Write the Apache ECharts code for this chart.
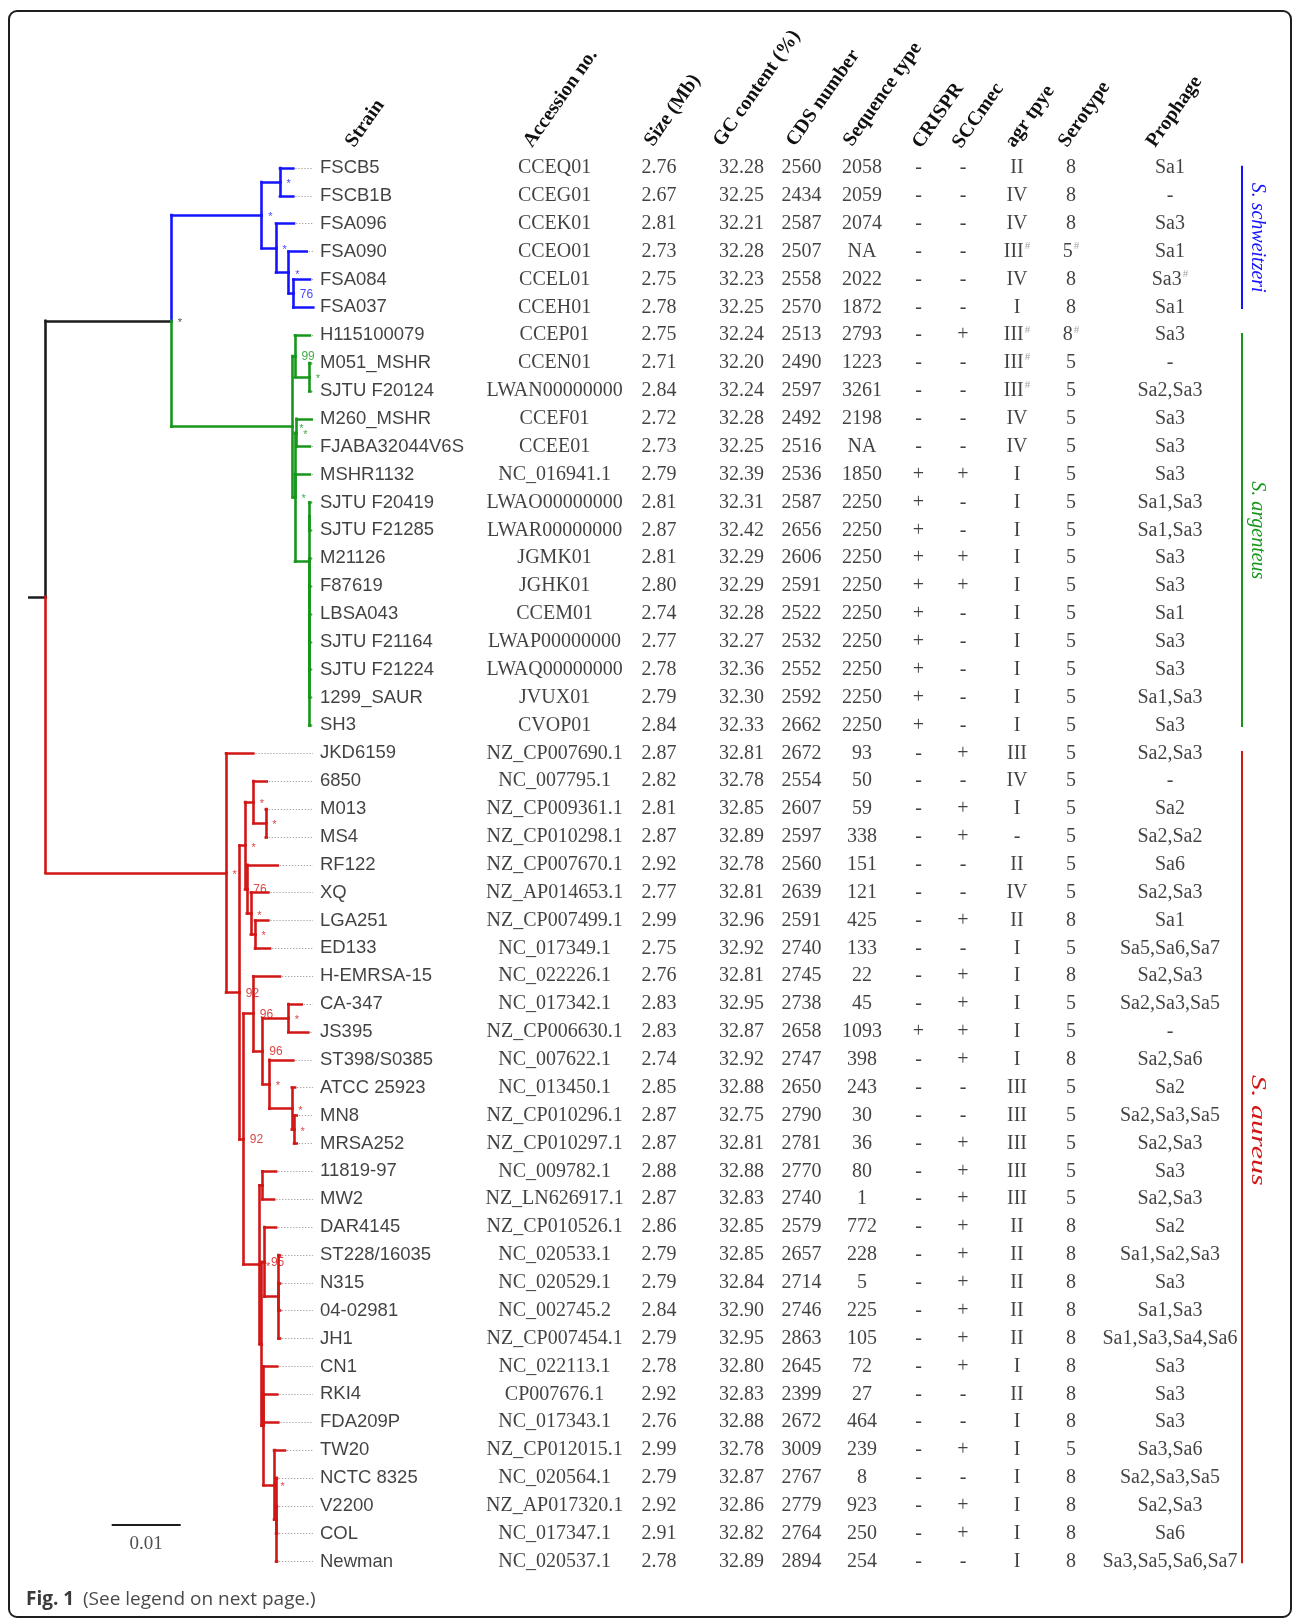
<!DOCTYPE html>
<html>
<head>
<meta charset="utf-8">
<title>Staphylococcus aureus complex genomes</title>
<script src="https://cdn.jsdelivr.net/npm/echarts@6/dist/echarts.min.js"></script>
<style>
  html, body { margin: 0; padding: 0; background: #fff; }
  #chart { width: 1295px; height: 1619px; }
</style>
</head>
<body>
<div id="chart"></div>
<script>
// ---------------------------------------------------------------
// Data
// ---------------------------------------------------------------

// Maximum-likelihood core-genome tree (Newick). Branch lengths are in
// substitutions per site; text after ')' is the bootstrap support
// ('*' = 100).
const treeBlue =
  "((FSCB5:0.00193,FSCB1B:0.00193)*:0.00265," +
  "(FSA096:0.00261,(FSA090:0.00261,(FSA084:0.00242,FSA037:0.0029)76:0.00067)*:0.00184)*:0.00207)*:0.0131";
const treeGreen =
  "((H115100079:0.00217,(M051_MSHR:0.00017,'SJTU F20124':0.00017)*:0.00207)99:0.00033," +
  "((M260_MSHR:0.00217,FJABA32044V6S:0.00193)*:0.00025,MSHR1132:0.00217," +
  "(('SJTU F20419':0.00017,'SJTU F21285':0.00017):0,(M21126:0.00017,(F87619:0.00017,LBSA043:0.00017," +
  "'SJTU F21164':0.00017,'SJTU F21224':0.00017,1299_SAUR:0.00017,SH3:0.00017):0):0):0.00207)*:0.00033)*:0.01759";
const treeRed =
  "(JKD6159:0.00396,(" +
    "((6850:0.00194,(M013:0.00014,MS4:0.00014)*:0.0018)*:0.0012," +
    "(RF122:0.00449,(XQ:0.00255,(LGA251:0.00193,ED133:0.00217)*:0.00062)*:0.00058)76:0.00025)*:0.00083," +
    "(('H-EMRSA-15':0.00387,(('CA-347':0.00194,JS395:0.0029)*:0.00371," +
      "('ST398/S0385':0.00348,('ATCC 25923':0.00048,(MN8:0.00039,MRSA252:0.00039)*:0.00033)*:0.00325)*:0.00096)96:0.00136)96:0.00145," +
    "(('11819-97':0.00199,MW2:0.0017):0.00041,((DAR4145:0.0017,('ST228/16035':0.00025,N315:0.00025," +
      "'04-02981':0.00025,JH1:0.00025):0.00203)95:0.00041,(CN1:0.00203,RKI4:0.00203,FDA209P:0.00217," +
      "(TW20:0.00159,('NCTC 8325':0.00014,V2200:0.00014,COL:0.00014,Newman:0.00014):0.00029)*:0.00155):0.00026):0.00029)*:0.00235" +
    ")92:0.00058" +
  ")92:0.00193)*:0.02613";
const treeNewick = "((" + treeBlue + "," + treeGreen + ")*:0.0182," + treeRed + "):0.00238;";

// Species clades (first and last strain of each clade in tree order)
const cladeNames  = ['S. schweitzeri', 'S. argenteus', 'S. aureus'];
const cladeFirst  = ['FSCB5', 'H115100079', 'JKD6159'];
const cladeLast   = ['FSA037', 'SH3', 'Newman'];
const cladeColors = ['#1414ff', '#16961a', '#d11616'];

// Genome features, one entry per strain
const strains = ['FSCB5','FSCB1B','FSA096','FSA090','FSA084','FSA037','H115100079','M051_MSHR','SJTU F20124',
  'M260_MSHR','FJABA32044V6S','MSHR1132','SJTU F20419','SJTU F21285','M21126','F87619','LBSA043','SJTU F21164',
  'SJTU F21224','1299_SAUR','SH3','JKD6159','6850','M013','MS4','RF122','XQ','LGA251','ED133','H-EMRSA-15',
  'CA-347','JS395','ST398/S0385','ATCC 25923','MN8','MRSA252','11819-97','MW2','DAR4145','ST228/16035','N315',
  '04-02981','JH1','CN1','RKI4','FDA209P','TW20','NCTC 8325','V2200','COL','Newman'];
const accession = ['CCEQ01','CCEG01','CCEK01','CCEO01','CCEL01','CCEH01','CCEP01','CCEN01','LWAN00000000',
  'CCEF01','CCEE01','NC_016941.1','LWAO00000000','LWAR00000000','JGMK01','JGHK01','CCEM01','LWAP00000000',
  'LWAQ00000000','JVUX01','CVOP01','NZ_CP007690.1','NC_007795.1','NZ_CP009361.1','NZ_CP010298.1',
  'NZ_CP007670.1','NZ_AP014653.1','NZ_CP007499.1','NC_017349.1','NC_022226.1','NC_017342.1','NZ_CP006630.1',
  'NC_007622.1','NC_013450.1','NZ_CP010296.1','NZ_CP010297.1','NC_009782.1','NZ_LN626917.1','NZ_CP010526.1',
  'NC_020533.1','NC_020529.1','NC_002745.2','NZ_CP007454.1','NC_022113.1','CP007676.1','NC_017343.1',
  'NZ_CP012015.1','NC_020564.1','NZ_AP017320.1','NC_017347.1','NC_020537.1'];
const sizeMb = [2.76,2.67,2.81,2.73,2.75,2.78,2.75,2.71,2.84,2.72,2.73,2.79,2.81,2.87,2.81,2.80,2.74,2.77,2.78,
  2.79,2.84,2.87,2.82,2.81,2.87,2.92,2.77,2.99,2.75,2.76,2.83,2.83,2.74,2.85,2.87,2.87,2.88,2.87,2.86,2.79,2.79,
  2.84,2.79,2.78,2.92,2.76,2.99,2.79,2.92,2.91,2.78];
const gcContent = [32.28,32.25,32.21,32.28,32.23,32.25,32.24,32.20,32.24,32.28,32.25,32.39,32.31,32.42,32.29,
  32.29,32.28,32.27,32.36,32.30,32.33,32.81,32.78,32.85,32.89,32.78,32.81,32.96,32.92,32.81,32.95,32.87,32.92,
  32.88,32.75,32.81,32.88,32.83,32.85,32.85,32.84,32.90,32.95,32.80,32.83,32.88,32.78,32.87,32.86,32.82,32.89];
const cdsNumber = [2560,2434,2587,2507,2558,2570,2513,2490,2597,2492,2516,2536,2587,2656,2606,2591,2522,2532,
  2552,2592,2662,2672,2554,2607,2597,2560,2639,2591,2740,2745,2738,2658,2747,2650,2790,2781,2770,2740,2579,2657,
  2714,2746,2863,2645,2399,2672,3009,2767,2779,2764,2894];
const sequenceType = ['2058','2059','2074','NA','2022','1872','2793','1223','3261','2198','NA','1850','2250',
  '2250','2250','2250','2250','2250','2250','2250','2250','93','50','59','338','151','121','425','133','22','45',
  '1093','398','243','30','36','80','1','772','228','5','225','105','72','27','464','239','8','923','250','254'];
const crispr = ['-','-','-','-','-','-','-','-','-','-','-','+','+','+','+','+','+','+','+','+','+','-','-','-',
  '-','-','-','-','-','-','-','+','-','-','-','-','-','-','-','-','-','-','-','-','-','-','-','-','-','-','-'];
const sccmec = ['-','-','-','-','-','-','+','-','-','-','-','+','-','-','+','+','-','-','-','-','-','+','-','+',
  '+','-','-','+','-','+','+','+','+','-','-','+','+','+','+','+','+','+','+','+','-','-','+','-','+','+','-'];
const agrType = ['II','IV','IV','III#','IV','I','III#','III#','III#','IV','IV','I','I','I','I','I','I','I','I',
  'I','I','III','IV','I','-','II','IV','II','I','I','I','I','I','III','III','III','III','III','II','II','II',
  'II','II','I','II','I','I','I','I','I','I'];
const serotype = ['8','8','8','5#','8','8','8#','5','5','5','5','5','5','5','5','5','5','5','5','5','5','5',
  '5','5','5','5','5','8','5','8','5','5','8','5','5','5','5','5','8','8','8','8','8','8','8','8','5','8','8',
  '8','8'];
const prophage = ['Sa1','-','Sa3','Sa1','Sa3#','Sa1','Sa3','-','Sa2,Sa3','Sa3','Sa3','Sa3','Sa1,Sa3','Sa1,Sa3',
  'Sa3','Sa3','Sa1','Sa3','Sa3','Sa1,Sa3','Sa3','Sa2,Sa3','-','Sa2','Sa2,Sa2','Sa6','Sa2,Sa3','Sa1',
  'Sa5,Sa6,Sa7','Sa2,Sa3','Sa2,Sa3,Sa5','-','Sa2,Sa6','Sa2','Sa2,Sa3,Sa5','Sa2,Sa3','Sa3','Sa2,Sa3','Sa2',
  'Sa1,Sa2,Sa3','Sa3','Sa1,Sa3','Sa1,Sa3,Sa4,Sa6','Sa3','Sa3','Sa3','Sa3,Sa6','Sa2,Sa3,Sa5','Sa2,Sa3','Sa6',
  'Sa3,Sa5,Sa6,Sa7'];

const columnTitles = ['Strain','Accession no.','Size (Mb)','GC content (%)','CDS number','Sequence type',
  'CRISPR','SCCmec','agr tpye','Serotype','Prophage'];
const scaleBarLength = 0.01;

// ---------------------------------------------------------------
// Layout
// ---------------------------------------------------------------
const W = 1295, H = 1619;
const ROW0 = 168, ROW_H = 27.87, N_ROWS = strains.length;
const ROOT_PX = 29.3, PX_PER_UNIT = 6900;
const X_MIN = -ROOT_PX / PX_PER_UNIT;
const X_MAX = X_MIN + W / PX_PER_UNIT;
const treeX = px => X_MIN + px / PX_PER_UNIT;      // pixel column -> tree axis
const rowOf = py => (py - ROW0) / ROW_H;            // pixel row -> row axis

const LEADER_END = 313, LEADER_GAP = 2, LABEL_X = 319.5;
const tableColumnX = [554.6, 659, 741.5, 801.4, 862, 918.5, 963, 1017, 1071, 1170];
const headerAnchors = [[343,147],[521,147],[642,146],[711,146],[784,146],[841,146],[910,148],[950,148],
  [1003,147],[1056,147],[1144,147]];
const HEADER_SHIFT = [15, 4];
const HEADER_ROT = 55 * Math.PI / 180;
const SPECIES_BAR_X = 1242, SPECIES_TEXT_X = 1257;
const speciesTextStretch = [1, 1, 1.5];    // the S. aureus tag is set wide
const speciesTextShift = [0, 0, -27];      // px, along the bar
const SCALE_BAR_PX = 111.7, SCALE_BAR_Y = 1525;

const FONT_SANS = '"Liberation Sans", Arial, sans-serif';
const FONT_SERIF = '"Liberation Serif", "Times New Roman", serif';
const FONT_CAPTION = '"Open Sans", sans-serif';

// ---------------------------------------------------------------
// Newick parsing and rectangular tree layout
// ---------------------------------------------------------------
function parseNewick(s) {
  let i = 0;
  const readName = () => {
    if (s[i] === "'") { const j = s.indexOf("'", i + 1); const n = s.slice(i + 1, j); i = j + 1; return n; }
    let j = i;
    while (j < s.length && !',():;'.includes(s[j])) j++;
    const n = s.slice(i, j); i = j; return n;
  };
  const readLength = () => {
    if (s[i] !== ':') return 0;
    i++;
    let j = i;
    while (j < s.length && !',();'.includes(s[j])) j++;
    const v = parseFloat(s.slice(i, j)); i = j; return v;
  };
  const readNode = () => {
    const node = { children: [] };
    if (s[i] === '(') {
      i++;
      node.children.push(readNode());
      while (s[i] === ',') { i++; node.children.push(readNode()); }
      i++;
      node.support = readName();
    } else {
      node.name = readName();
    }
    node.length = readLength();
    return node;
  };
  return readNode();
}

const tree = parseNewick(treeNewick);
let leafCounter = 0;
(function layout(n, parentX) {
  n.x0 = parentX;
  n.x = parentX + n.length;
  if (!n.children.length) {
    n.y = leafCounter++;
    n.leaves = [n.name];
  } else {
    n.children.forEach(c => layout(c, n.x));
    n.y = (n.children[0].y + n.children[n.children.length - 1].y) / 2;
    n.leaves = [].concat(...n.children.map(c => c.leaves));
  }
})(tree, 0);

// clade membership and colours
const cladeSets = cladeNames.map((_, k) => {
  const a = strains.indexOf(cladeFirst[k]), b = strains.indexOf(cladeLast[k]);
  return new Set(strains.slice(a, b + 1));
});
(function colour(n) {
  const k = cladeSets.findIndex(set => n.leaves.every(l => set.has(l)));
  n.color = k >= 0 ? cladeColors[k] : '#1c1c1c';
  n.children.forEach(colour);
})(tree);

const branchData = [], supportData = [], leaderData = [], leaves = [];
(function walk(n) {
  branchData.push({ coords: [[n.x0, n.y], [n.x, n.y]], lineStyle: { color: n.color } });
  n.children.forEach(c => {
    branchData.push({ coords: [[n.x, n.y], [n.x, c.y]], lineStyle: { color: c.color } });
    walk(c);
  });
  if (n.support) supportData.push({ value: [n.x, n.y], name: n.support, color: n.color });
  if (!n.children.length) {
    leaves.push(n);
    const start = n.x + LEADER_GAP / PX_PER_UNIT, end = treeX(LEADER_END);
    if (start < end) leaderData.push({ coords: [[start, n.y], [end, n.y]] });
  }
})(tree);

// table cells
const tableColumns = [
  accession,
  sizeMb.map(v => v.toFixed(2)),
  gcContent.map(v => v.toFixed(2)),
  cdsNumber.map(String),
  sequenceType, crispr, sccmec, agrType, serotype, prophage
];
const rowOfStrain = name => leaves.find(l => l.name === name).y;
const cellData = [];
tableColumns.forEach((col, c) => {
  col.forEach((txt, r) => {
    cellData.push({ value: [tableColumnX[c], rowOfStrain(strains[r])], name: txt });
  });
});
const cellFormatter = p => {
  const t = p.name;
  if (t.endsWith('#')) return '{v|' + t.slice(0, -1) + '}{s|#}';
  return '{v|' + t + '}';
};

const strainData = leaves.map(l => ({ value: [LABEL_X, l.y], name: l.name }));

const speciesBars = [], speciesLabels = [];
cladeNames.forEach((name, k) => {
  const a = rowOfStrain(cladeFirst[k]), b = rowOfStrain(cladeLast[k]);
  speciesBars.push({ coords: [[SPECIES_BAR_X, a - 0.08], [SPECIES_BAR_X, b + 0.06]], lineStyle: { color: cladeColors[k] } });
  speciesLabels.push([SPECIES_TEXT_X, (a + b) / 2, k]);
});

const sbStart = treeX(SCALE_BAR_PX);
const sbRow = rowOf(SCALE_BAR_Y);

const hidden = { color: 'rgba(0,0,0,0)' };

// ---------------------------------------------------------------
// Chart
// ---------------------------------------------------------------
const chart = echarts.init(document.getElementById('chart'));
chart.setOption({
  animation: false,
  backgroundColor: '#ffffff',
  grid: { left: 0, right: 0, top: ROW0 - ROW_H / 2, height: ROW_H * N_ROWS },
  xAxis: [
    { type: 'value', min: X_MIN, max: X_MAX, show: false },
    { type: 'value', min: 0, max: W, show: false }
  ],
  yAxis: { type: 'value', min: -0.5, max: N_ROWS - 0.5, inverse: true, show: false },
  series: [
    {
      name: 'leaders', type: 'lines', coordinateSystem: 'cartesian2d', xAxisIndex: 0, silent: true,
      lineStyle: { color: '#a4a4a4', width: 1, type: [1.3, 1.7], opacity: 1 },
      data: leaderData, z: 1
    },
    {
      name: 'branches', type: 'lines', coordinateSystem: 'cartesian2d', xAxisIndex: 0, silent: true,
      lineStyle: { width: 2.6, opacity: 1, cap: 'square' },
      data: branchData, z: 3
    },
    {
      name: 'support', type: 'scatter', xAxisIndex: 0, symbolSize: 1, itemStyle: hidden, silent: true,
      data: supportData.map(d => ({ value: d.value, name: d.name, label: { color: d.color,
        fontSize: d.name === '*' ? 11 : 12, offset: d.name === '*' ? [0, 2] : [0, 1] } })),
      label: { show: true, position: 'right', distance: 6, formatter: '{b}', fontFamily: FONT_SANS },
      z: 4
    },
    {
      name: 'strains', type: 'scatter', xAxisIndex: 1, symbolSize: 1, itemStyle: hidden, silent: true,
      data: strainData,
      label: { show: true, position: 'right', distance: 0, formatter: '{b}', color: '#111',
        fontFamily: FONT_SANS, fontSize: 18.5 },
      z: 4
    },
    {
      name: 'table', type: 'scatter', xAxisIndex: 1, symbolSize: 1, itemStyle: hidden, silent: true,
      data: cellData,
      label: {
        show: true, position: 'inside', formatter: cellFormatter,
        rich: {
          v: { fontFamily: FONT_SERIF, fontSize: 20, color: '#111', lineHeight: 22 },
          s: { fontFamily: FONT_SERIF, fontSize: 11, color: '#8c8c8c', lineHeight: 12, verticalAlign: 'top', padding: [0, 0, 0, 1] }
        }
      },
      z: 4
    },
    {
      name: 'species bars', type: 'lines', coordinateSystem: 'cartesian2d', xAxisIndex: 1, silent: true,
      lineStyle: { width: 2, opacity: 1 }, data: speciesBars, z: 3
    },
    {
      name: 'species', type: 'custom', xAxisIndex: 1, silent: true, data: speciesLabels, z: 4,
      renderItem: (params, api) => {
        const p = api.coord([api.value(0), api.value(1)]);
        const k = api.value(2);
        return {
          type: 'text', x: p[0], y: p[1] + speciesTextShift[k], rotation: -Math.PI / 2,
          scaleX: speciesTextStretch[k], scaleY: 1,
          style: { text: cladeNames[k], font: 'italic 20px ' + FONT_SERIF, fill: cladeColors[k],
            align: 'center', verticalAlign: 'middle' }
        };
      }
    },
    {
      name: 'scale bar', type: 'lines', coordinateSystem: 'cartesian2d', xAxisIndex: 0, silent: true,
      lineStyle: { width: 2, color: '#1c1c1c', opacity: 1 },
      data: [{ coords: [[sbStart, sbRow], [sbStart + scaleBarLength, sbRow]] }], z: 3
    },
    {
      name: 'scale label', type: 'scatter', xAxisIndex: 0, symbolSize: 1, itemStyle: hidden, silent: true,
      data: [{ value: [sbStart + scaleBarLength / 2, sbRow], name: String(scaleBarLength) }],
      label: { show: true, position: 'bottom', distance: 9, formatter: '{b}', color: '#222',
        fontFamily: FONT_SERIF, fontSize: 19 },
      z: 4
    }
  ],
  graphic: [
    {
      type: 'rect', silent: true, z: 10,
      shape: { x: 9, y: 11, width: 1282, height: 1606, r: 8 },
      style: { fill: 'none', stroke: '#1e1e1e', lineWidth: 2 }
    },
    ...columnTitles.map((t, k) => ({
      type: 'text', silent: true,
      x: headerAnchors[k][0] + HEADER_SHIFT[0], y: headerAnchors[k][1] + HEADER_SHIFT[1], rotation: HEADER_ROT,
      style: { text: t, font: 'bold 20px ' + FONT_SERIF, fill: '#111',
        align: 'left', verticalAlign: 'bottom', textAlign: 'left', textVerticalAlign: 'bottom' }
    })),
    {
      type: 'text', silent: true, x: 26, y: 1600,
      style: { text: 'Fig. 1', font: 'bold 19px ' + FONT_CAPTION, fill: '#3a3a3a',
        align: 'left', verticalAlign: 'middle', textAlign: 'left', textVerticalAlign: 'middle' }
    },
    {
      type: 'text', silent: true, x: 83, y: 1600,
      style: { text: '(See legend on next page.)', font: '19px ' + FONT_CAPTION, fill: '#4a4a4a',
        align: 'left', verticalAlign: 'middle', textAlign: 'left', textVerticalAlign: 'middle' }
    }
  ]
});
</script>
</body>
</html>
